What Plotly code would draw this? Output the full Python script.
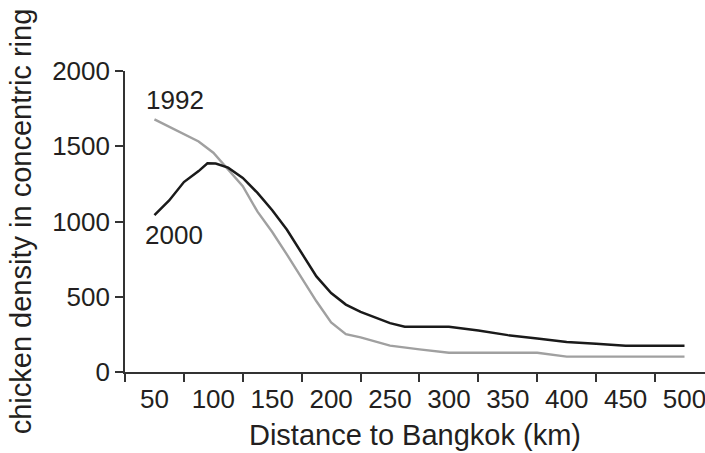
import plotly.graph_objects as go

# Distance to Bangkok (km) and chicken density per concentric ring
x_2000 = [50, 62.5, 75, 87.5, 95, 102, 112.5, 125, 137.5, 150, 162.5, 175, 187.5, 200,
          212.5, 225, 237.5, 250, 262.5, 300, 325, 350, 375, 400, 425, 450, 500]
y_2000 = [1043, 1140, 1262, 1335, 1387, 1385, 1358, 1290, 1190, 1075, 945, 790, 635, 525,
          448, 400, 360, 325, 301, 301, 275, 245, 222, 200, 187, 175, 175]

x_1992 = [50, 87.5, 100, 112.5, 125, 137.5, 150, 162.5, 175, 187.5, 200, 212.5, 225,
          250, 275, 300, 375, 400, 500]
y_1992 = [1679, 1532, 1457, 1346, 1235, 1065, 930, 780, 624, 470, 330, 252, 230,
          175, 150, 128, 128, 102, 102]

x_tick_labels = [50, 100, 150, 200, 250, 300, 350, 400, 450, 500]
x_minor_ticks = [25, 75, 125, 175, 225, 275, 325, 375, 425, 475]
y_ticks = [0, 500, 1000, 1500, 2000]

FONT = "Liberation Sans, Arial, Helvetica, sans-serif"
TXT = "#231f20"
AX = "#333333"

fig = go.Figure()
fig.add_trace(go.Scatter(x=x_1992, y=y_1992, mode="lines", name="1992",
                         line=dict(color="#a0a0a0", width=2.4)))
fig.add_trace(go.Scatter(x=x_2000, y=y_2000, mode="lines", name="2000",
                         line=dict(color="#1a1a1a", width=2.5)))

fig.add_annotation(x=67.5, y=1807, text="1992", showarrow=False,
                   font=dict(size=26, color=TXT, family=FONT))
fig.add_annotation(x=66.5, y=910, text="2000", showarrow=False,
                   font=dict(size=26, color=TXT, family=FONT))

fig.update_layout(
    width=705, height=453,
    margin=dict(l=125, r=0, t=71, b=81),
    paper_bgcolor="white", plot_bgcolor="white",
    showlegend=False,
    font=dict(family=FONT, color=TXT),
    xaxis=dict(
        range=[25, 517.4],
        tickmode="array", tickvals=x_tick_labels,
        ticks="outside", ticklen=3, tickcolor="rgba(0,0,0,0)",
        ticklabeloverflow="allow",
        tickfont=dict(size=26, color=TXT),
        minor=dict(tickmode="array", tickvals=x_minor_ticks, ticks="outside",
                   ticklen=8, tickcolor=AX, tickwidth=1.5, showgrid=False),
        showline=True, linecolor=AX, linewidth=1.6,
        showgrid=False, zeroline=False,
        title=dict(text="Distance to Bangkok (km)", font=dict(size=29, color=TXT),
                   standoff=12),
    ),
    yaxis=dict(
        range=[0, 2000],
        tickmode="array", tickvals=y_ticks,
        ticks="outside", ticklen=8, tickcolor=AX, tickwidth=1.5,
        tickfont=dict(size=26, color=TXT),
        showline=True, linecolor=AX, linewidth=1.6,
        showgrid=False, zeroline=False,
        title=dict(text="chicken density in concentric ring",
                   font=dict(size=29, color=TXT), standoff=12),
    ),
)

fig.write_html("out.html")
